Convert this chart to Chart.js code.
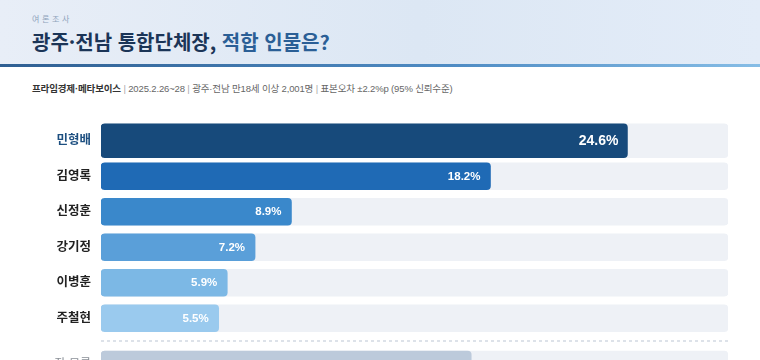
<!DOCTYPE html>
<html lang="ko">
<head>
<meta charset="utf-8">
<script src="https://cdn.jsdelivr.net/npm/chart.js@4.4.1/dist/chart.umd.min.js"></script>
<style>
html,body{margin:0;padding:0;background:#fff;}
body{width:760px;height:360px;overflow:hidden;position:relative;font-family:"Liberation Sans","Noto Sans CJK KR",sans-serif;}
.band{position:absolute;left:0;top:0;width:760px;height:64px;background:linear-gradient(90deg,#e8eef7 0%,#dce7f4 55%,#e3ecf8 100%);}
.rule{position:absolute;left:0;top:64px;width:760px;height:3px;background:linear-gradient(90deg,#2f5f92 0%,#4f8cc4 60%,#86bde6 100%);}
.kicker{position:absolute;left:32px;top:14px;font-size:8px;letter-spacing:2.6px;color:#8ea3bb;line-height:12px;white-space:nowrap;}
.title{position:absolute;left:32px;top:28px;font-size:20px;font-weight:700;color:#1b3557;line-height:28px;white-space:nowrap;font-family:"Noto Sans CJK KR",sans-serif;}
.title span{color:#2b5f96;}
.source{position:absolute;left:32px;top:82px;font-size:9.5px;letter-spacing:-0.15px;line-height:14px;color:#666;white-space:nowrap;}
.source b{color:#333;}
.source i{font-style:normal;color:#aaa;}
#c1wrap{position:absolute;left:0;top:123px;width:760px;height:213px;}
.sep{position:absolute;left:101px;top:340px;width:627px;height:2px;background:repeating-linear-gradient(90deg,#dde2e9 0 3px,transparent 3px 6px);}
#c2wrap{position:absolute;left:0;top:347px;width:760px;height:35px;}
</style>
</head>
<body>
<div class="band"></div>
<div class="rule"></div>
<div class="kicker">여론조사</div>
<div class="title">광주·전남 통합단체장, <span>적합 인물은?</span></div>
<div class="source"><b>프라임경제·메타보이스</b> <i>|</i> 2025.2.26~28 <i>|</i> 광주·전남 만18세 이상 2,001명 <i>|</i> 표본오차 ±2.2%p (95% 신뢰수준)</div>
<div id="c1wrap"><canvas id="c1"></canvas></div>
<div class="sep"></div>
<div id="c2wrap"><canvas id="c2"></canvas></div>
<script>
// ---- data ----
const categories = ['민형배', '김영록', '신정훈', '강기정', '이병훈', '주철현', '잘 모름'];
const values = [24.6, 18.2, 8.9, 7.2, 5.9, 5.5, 17.3];
const AXIS_MAX = 29.3;

// ---- styles ----
const barColors = ['#174a7b', '#1f6ab5', '#3a88cb', '#5a9fd9', '#7cb8e5', '#9acaee', '#bccadb'];
const TRACK = '#eef1f6';
const LABEL_FONT = '"Liberation Sans","Noto Sans CJK KR",sans-serif';

const valueLabels = {
  id: 'valueLabels',
  afterDatasetsDraw(chart) {
    const ctx = chart.ctx;
    chart.data.datasets.forEach((ds, di) => {
      if (!ds.isValue) return;
      const meta = chart.getDatasetMeta(di);
      meta.data.forEach((el, i) => {
        const v = ds.data[i];
        if (v == null) return;
        ctx.save();
        ctx.fillStyle = '#ffffff';
        ctx.font = 'bold ' + ds.valueFont + 'px ' + LABEL_FONT;
        ctx.textAlign = 'right';
        ctx.textBaseline = 'middle';
        ctx.fillText(v.toFixed(1) + '%', el.x - ds.valuePad, el.y + 0.5);
        ctx.restore();
      });
    });
  }
};

function baseOptions(tickColor, tickFont) {
  return {
    indexAxis: 'y',
    responsive: true,
    maintainAspectRatio: false,
    animation: false,
    layout: { padding: { left: 0, right: 32, top: 0, bottom: 0 } },
    plugins: { legend: { display: false }, tooltip: { enabled: false } },
    scales: {
      x: { min: 0, max: AXIS_MAX, display: false },
      y: {
        grid: { display: false, drawTicks: false },
        border: { display: false },
        afterFit(scale) {
          scale.width = 101;
          scale.paddingTop = 0;
          scale.paddingBottom = 0;
        },
        ticks: { padding: 10, color: tickColor, font: tickFont }
      }
    }
  };
}

// main chart: first six candidates
const mainLabels = categories.slice(0, 6);
const mainValues = values.slice(0, 6);
const leadOnly = mainValues.map((v, i) => (i === 0 ? v : null));
const restOnly = mainValues.map((v, i) => (i === 0 ? null : v));

new Chart(document.getElementById('c1'), {
  type: 'bar',
  data: {
    labels: mainLabels,
    datasets: [
      { data: mainValues.map((v, i) => (i === 0 ? AXIS_MAX : null)), backgroundColor: TRACK, barThickness: 34, borderRadius: 4, borderSkipped: false, grouped: false, order: 3 },
      { data: mainValues.map((v, i) => (i === 0 ? null : AXIS_MAX)), backgroundColor: TRACK, barThickness: 27, borderRadius: 4, borderSkipped: false, grouped: false, order: 3 },
      { data: leadOnly, backgroundColor: barColors[0], barThickness: 34, borderRadius: 4, borderSkipped: false, grouped: false, order: 1, isValue: true, valueFont: 14, valuePad: 9 },
      { data: restOnly, backgroundColor: barColors.slice(0, 6), barThickness: 27, borderRadius: 4, borderSkipped: false, grouped: false, order: 1, isValue: true, valueFont: 11.5, valuePad: 10 }
    ]
  },
  options: baseOptions(
    (c) => (c.index === 0 ? '#1d4f80' : '#222222'),
    { family: LABEL_FONT, size: 12.5, weight: 'bold' }
  ),
  plugins: [valueLabels]
});

// secondary chart: undecided row below separator
const otherLabels = categories.slice(6);
const otherValues = values.slice(6);
new Chart(document.getElementById('c2'), {
  type: 'bar',
  data: {
    labels: otherLabels,
    datasets: [
      { data: otherValues.map(() => AXIS_MAX), backgroundColor: TRACK, barThickness: 27, borderRadius: 4, borderSkipped: false, grouped: false, order: 3 },
      { data: otherValues, backgroundColor: barColors[6], barThickness: 27, borderRadius: 4, borderSkipped: false, grouped: false, order: 1, isValue: true, valueFont: 11.5, valuePad: 10 }
    ]
  },
  options: baseOptions('#8a8f96', { family: LABEL_FONT, size: 12, weight: 'normal' }),
  plugins: [valueLabels]
});
</script>
</body>
</html>
